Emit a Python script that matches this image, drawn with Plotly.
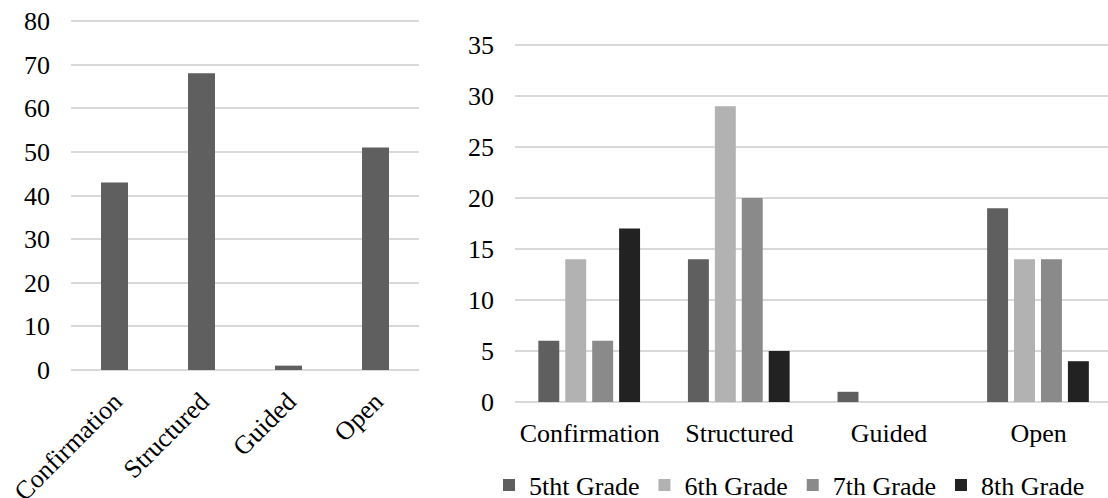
import plotly.graph_objects as go

# Inquiry levels (categories shared by both panels)
categories = ["Confirmation", "Structured", "Guided", "Open"]

# Left panel: totals across all grades
totals = [43, 68, 1, 51]

# Right panel: counts per grade
grade_names = ["5tht Grade", "6th Grade", "7th Grade", "8th Grade"]
grade5 = [6, 14, 1, 19]
grade6 = [14, 29, 0, 14]
grade7 = [6, 20, 0, 14]
grade8 = [17, 5, 0, 4]

left_ticks = [0, 10, 20, 30, 40, 50, 60, 70, 80]
right_ticks = [0, 5, 10, 15, 20, 25, 30, 35]

FONT = "Liberation Serif, Times New Roman, serif"
GRID = "#d9d9d9"
grade_colors = ["#5f5f5f", "#b2b2b2", "#8a8a8a", "#222222"]
grade_offsets = [-0.344, -0.164, 0.016, 0.196]
grade_width = 0.140

W, H = 1108, 498

fig = go.Figure()

fig.add_trace(go.Bar(
    x=categories, y=totals, xaxis="x", yaxis="y",
    marker=dict(color="#5f5f5f", line=dict(width=0)),
    width=0.31, offset=-0.155, showlegend=False,
))

for name, vals, col, off in zip(grade_names, [grade5, grade6, grade7, grade8],
                                grade_colors, grade_offsets):
    fig.add_trace(go.Bar(
        x=categories, y=vals, xaxis="x2", yaxis="y2", name=name,
        marker=dict(color=col, line=dict(width=0)),
        width=grade_width, offset=off,
    ))

axis_font = dict(family=FONT, size=26, color="#000000")

# Plot areas in pixels; ranges run a little past the top tick so its
# gridline is still drawn.
left_top_val, left_px0, left_px_top = 80, 370, 21
right_top_val, right_px0, right_px_top = 35, 402, 45
pad = 1.01
left_top_px = left_px0 - (left_px0 - left_px_top) * pad
right_top_px = right_px0 - (right_px0 - right_px_top) * pad

fig.update_layout(
    width=W, height=H,
    margin=dict(l=0, r=0, t=0, b=0, autoexpand=False),
    paper_bgcolor="white", plot_bgcolor="white",
    font=axis_font,
    barmode="group",
    xaxis=dict(domain=[71 / W, 419 / W], range=[-0.5, 3.5],
               type="category", tickangle=-45, tickfont=axis_font,
               showgrid=False, showline=False, ticks="", zeroline=False,
               automargin=False, ticklabelstandoff=10),
    yaxis=dict(domain=[1 - left_px0 / H, 1 - left_top_px / H],
               range=[0, left_top_val * pad],
               tickvals=left_ticks, tickfont=axis_font,
               showgrid=True, gridcolor=GRID, gridwidth=1.5,
               zeroline=True, zerolinecolor=GRID, zerolinewidth=1.5,
               showline=False, ticks="", ticklabelstandoff=20,
               automargin=False),
    xaxis2=dict(domain=[515 / W, 1.0], range=[-0.5, 3.464],
                type="category", tickangle=0, tickfont=axis_font,
                showgrid=False, showline=False, ticks="", zeroline=False,
                anchor="y2", automargin=False, ticklabelstandoff=13),
    yaxis2=dict(domain=[1 - right_px0 / H, 1 - right_top_px / H],
                range=[0, right_top_val * pad],
                tickvals=right_ticks, tickfont=axis_font, anchor="x2",
                showgrid=True, gridcolor=GRID, gridwidth=1.5,
                zeroline=True, zerolinecolor=GRID, zerolinewidth=1.5,
                showline=False, ticks="", ticklabelstandoff=20,
                automargin=False),
    legend=dict(orientation="h", x=489 / W, xanchor="left",
                y=1 - 485 / H, yanchor="middle",
                font=axis_font, bgcolor="rgba(0,0,0,0)",
                traceorder="normal", itemwidth=30),
)

fig.write_html("out.html")
